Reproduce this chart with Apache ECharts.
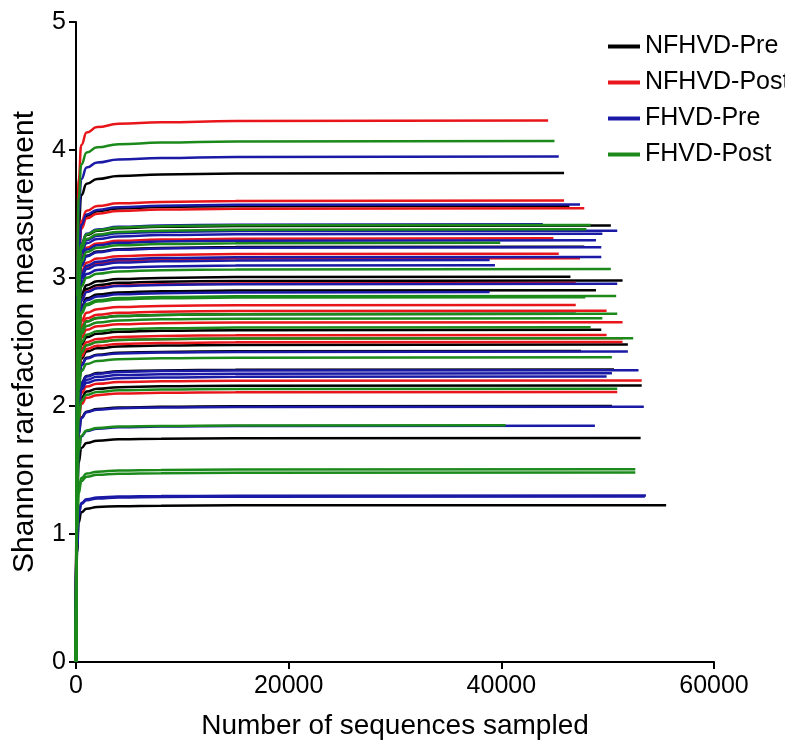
<!DOCTYPE html>
<html>
<head>
<meta charset="utf-8">
<script src="https://cdn.jsdelivr.net/npm/echarts@6/dist/echarts.min.js"></script>
<style>
  html, body { margin: 0; padding: 0; background: #fff; }
  #chart { width: 785px; height: 747px; }
</style>
</head>
<body>
<div id="chart"></div>
<script>
// ---- Data ----
const GROUPS = ['NFHVD-Pre', 'NFHVD-Post', 'FHVD-Pre', 'FHVD-Post'];
const X_TICKS = [0, 20000, 40000, 60000];
const Y_TICKS = [0, 1, 2, 3, 4, 5];

const RISE_DEPTHS = [0, 100, 250, 500, 1000, 2000, 4000, 8000, 15000];
const RISE_FRACTION = [0, 0.70, 0.89, 0.955, 0.978, 0.988, 0.994, 0.997, 0.999];

// NFHVD-Pre (black): plateau Shannon value and final depth of each curve
const NF_PRE_PLATEAU = [3.82, 3.565, 3.41, 3.245, 3.01, 2.98, 2.905, 2.72, 2.595, 2.48, 2.43, 2.285, 2.16, 2.00, 1.75, 1.225];
const NF_PRE_END     = [45900, 46400, 50300, 47800, 46500, 51400, 48900, 47000, 49400, 51900, 47500, 50600, 53200, 50400, 53100, 55500];

// NFHVD-Post (red)
const NF_POST_PLATEAU = [4.23, 3.605, 3.545, 3.31, 3.19, 3.155, 2.96, 2.79, 2.745, 2.655, 2.555, 2.53, 2.50, 2.20, 2.11];
const NF_POST_END     = [44400, 45900, 47800, 44900, 45400, 47400, 47000, 47000, 49900, 51400, 49900, 51400, 51400, 53200, 50900];

// FHVD-Pre (blue)
const F_PRE_PLATEAU = [3.95, 3.575, 3.42, 3.37, 3.345, 3.295, 3.24, 3.165, 3.14, 3.10, 2.955, 2.89, 2.425, 2.28, 2.255, 2.23, 1.995, 1.845, 1.30, 1.293];
const F_PRE_END     = [45400, 47400, 43900, 50900, 49500, 48900, 49400, 49400, 38900, 39400, 50900, 38900, 51900, 52900, 50400, 49900, 53400, 48800, 53600, 53500];

// FHVD-Post (green)
const F_POST_PLATEAU = [4.07, 3.415, 3.38, 3.275, 3.07, 2.86, 2.85, 2.72, 2.685, 2.615, 2.53, 2.38, 2.135, 1.85, 1.505, 1.48];
const F_POST_END     = [45000, 48400, 48000, 39900, 50300, 50800, 47900, 50900, 49500, 48400, 52400, 50400, 50900, 40400, 52600, 52600];

const COLORS = ['#000000', '#e8161b', '#1a1aa6', '#1b8a1b'];
const FONT = '"Liberation Sans", Arial, Helvetica, sans-serif';

function curve(plateau, end) {
  const pts = [];
  for (let i = 0; i < RISE_DEPTHS.length; i++) {
    if (RISE_DEPTHS[i] < end) pts.push([RISE_DEPTHS[i], plateau * RISE_FRACTION[i]]);
  }
  pts.push([end, plateau]);
  return pts;
}

const groupData = [
  [NF_PRE_PLATEAU, NF_PRE_END],
  [NF_POST_PLATEAU, NF_POST_END],
  [F_PRE_PLATEAU, F_PRE_END],
  [F_POST_PLATEAU, F_POST_END]
];

const series = [];
groupData.forEach((g, gi) => {
  g[0].forEach((p, i) => {
    series.push({
      name: GROUPS[gi],
      type: 'line',
      data: curve(p, g[1][i]),
      showSymbol: false,
      symbol: 'none',
      smooth: 0.5,
      smoothMonotone: 'x',
      lineStyle: { color: COLORS[gi], width: 2.5 },
      itemStyle: { color: COLORS[gi] },
      emphasis: { disabled: true },
      silent: true
    });
  });
});

const chart = echarts.init(document.getElementById('chart'), null, { renderer: 'canvas' });
chart.setOption({
  animation: false,
  backgroundColor: '#ffffff',
  grid: { left: 76, top: 22, width: 638, height: 640, containLabel: false },
  legend: {
    data: GROUPS,
    orient: 'vertical',
    left: 603,
    top: 29,
    icon: 'rect',
    itemWidth: 32,
    itemHeight: 4,
    itemGap: 11,
    textStyle: { fontFamily: FONT, fontSize: 25, color: '#000', lineHeight: 25 },
    selectedMode: false
  },
  xAxis: {
    type: 'value',
    min: X_TICKS[0],
    max: X_TICKS[X_TICKS.length - 1],
    interval: X_TICKS[1] - X_TICKS[0],
    name: 'Number of sequences sampled',
    nameLocation: 'middle',
    nameGap: 50,
    nameTextStyle: { fontFamily: FONT, fontSize: 28, color: '#000' },
    axisLine: { show: true, onZero: false, lineStyle: { color: '#000', width: 2 } },
    axisTick: { show: true, inside: false, length: 7, lineStyle: { color: '#000', width: 2 } },
    axisLabel: { fontFamily: FONT, fontSize: 25, color: '#000', margin: 12, formatter: v => String(v) },
    splitLine: { show: false }
  },
  yAxis: {
    type: 'value',
    min: Y_TICKS[0],
    max: Y_TICKS[Y_TICKS.length - 1],
    interval: 1,
    name: 'Shannon rarefaction measurement',
    nameLocation: 'middle',
    nameGap: 36,
    nameTextStyle: { fontFamily: FONT, fontSize: 30, color: '#000' },
    axisLine: { show: true, onZero: false, lineStyle: { color: '#000', width: 2 } },
    axisTick: { show: true, inside: false, length: 7, lineStyle: { color: '#000', width: 2 } },
    axisLabel: { fontFamily: FONT, fontSize: 25, color: '#000', margin: 10, formatter: v => String(v) },
    splitLine: { show: false }
  },
  series: series
});
</script>
</body>
</html>
